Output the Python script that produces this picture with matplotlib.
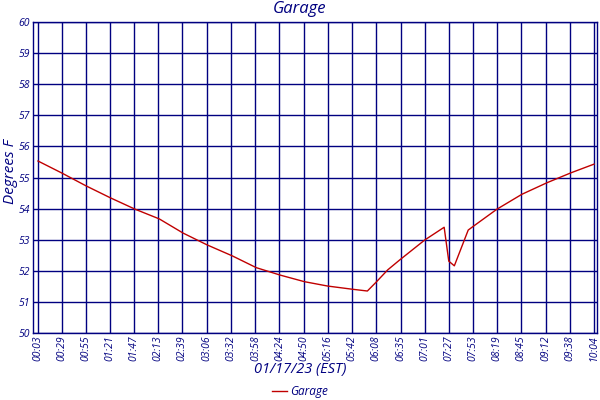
import matplotlib
matplotlib.use("Agg")
import matplotlib.pyplot as plt

# readings: minutes after midnight, temperature (F)
minutes = [3, 29, 55, 81, 108, 134, 160, 186, 213, 239, 265, 291, 316, 342, 359,
           368, 381, 394, 421, 442, 447, 453, 468, 473, 499, 526, 553, 579, 604]
temps = [55.53, 55.14, 54.73, 54.35, 53.98, 53.67, 53.21, 52.83, 52.48, 52.10,
         51.86, 51.65, 51.51, 51.41, 51.35, 51.62, 52.03, 52.35, 52.99, 53.40,
         52.31, 52.16, 53.31, 53.42, 53.98, 54.46, 54.83, 55.15, 55.43]

tick_minutes = [3, 29, 55, 81, 107, 133, 159, 186, 212, 238, 264, 290, 316, 342,
                368, 395, 421, 447, 473, 499, 525, 552, 578, 604]
tick_labels = ["00:03", "00:29", "00:55", "01:21", "01:47", "02:13", "02:39", "03:06",
               "03:32", "03:58", "04:24", "04:50", "05:16", "05:42", "06:08", "06:35",
               "07:01", "07:27", "07:53", "08:19", "08:45", "09:12", "09:38", "10:04"]
y_ticks = [50, 51, 52, 53, 54, 55, 56, 57, 58, 59, 60]

navy = "#000080"
plt.rcParams['font.family'] = ['Open Sans', 'DejaVu Sans']

fig = plt.figure(figsize=(6, 4), dpi=100)
ax = fig.add_axes([0.055, 0.1675, 0.94, 0.7775])

line, = ax.plot(minutes, temps, color="#c00000", lw=1.0, label="Garage")

ax.set_xlim(-2.4, 607.2)
ax.set_ylim(50, 60)
ax.set_xticks(tick_minutes)
ax.set_xticklabels(tick_labels, rotation=90, fontsize=7.5, style="italic", color=navy)
ax.set_yticks(y_ticks)
ax.set_yticklabels([str(v) for v in y_ticks], fontsize=7.5, style="italic", color=navy)
ax.tick_params(length=0, pad=2)
ax.grid(True, color=navy, lw=1.0)
ax.set_axisbelow(True)
for s in ax.spines.values():
    s.set_color(navy)
    s.set_linewidth(1.0)

fig.text(0.5, 0.977, "Garage", ha="center", va="center", fontsize=12,
         style="italic", color=navy)
fig.text(0.5, 0.075, "01/17/23 (EST)", ha="center", va="center", fontsize=10.5,
         style="italic", color=navy)
fig.text(0.018, 0.57, "Degrees F", ha="center", va="center", rotation=90,
         fontsize=11, style="italic", color=navy)

leg = fig.legend(handles=[line], loc="center", bbox_to_anchor=(0.5, 0.02),
                 frameon=False, handlelength=1.3, handletextpad=0.3,
                 prop={'style': 'italic', 'size': 8.5})
for t in leg.get_texts():
    t.set_color(navy)

fig.savefig("out.png", dpi=100)
